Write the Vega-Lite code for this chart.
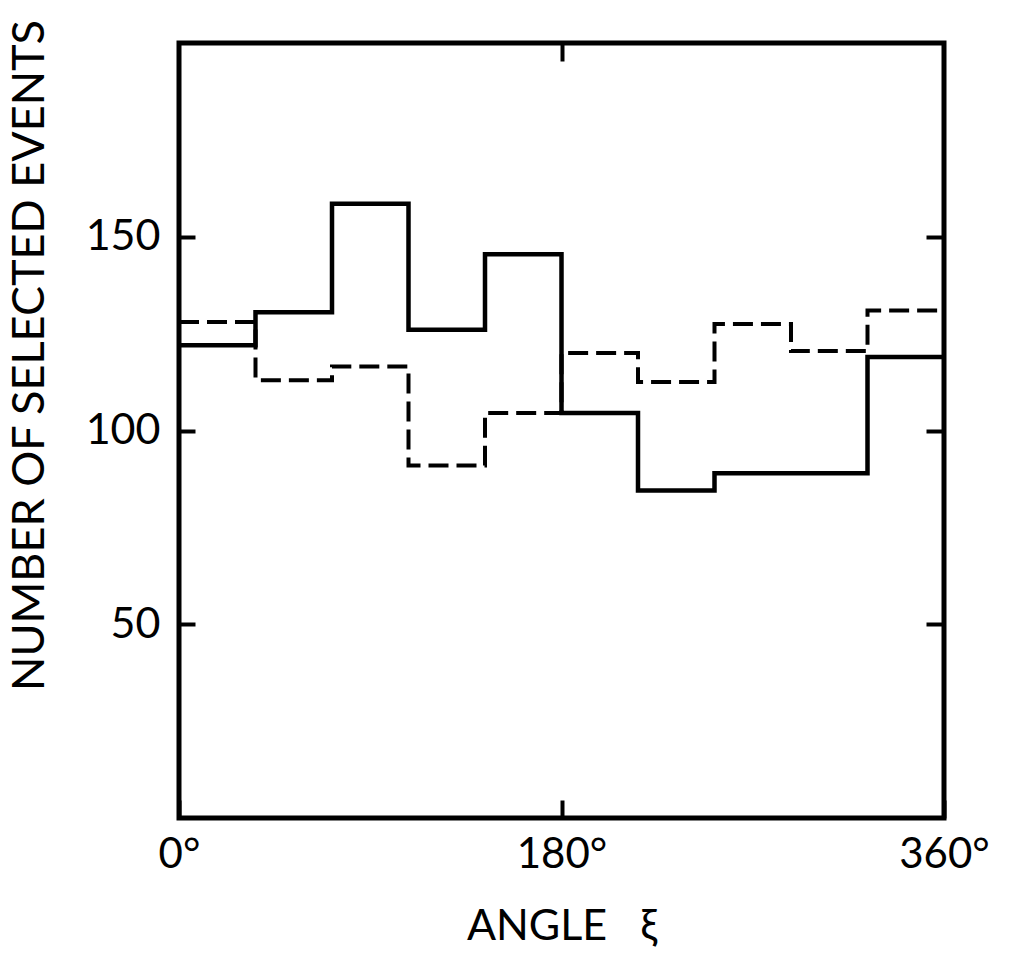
{
  "$schema": "https://vega.github.io/schema/vega-lite/v6.json",
  "width": 765,
  "height": 775,
  "autosize": {"type": "none"},
  "padding": {"left": 179, "top": 43, "right": 70, "bottom": 148},
  "background": "white",
  "config": {
    "view": {"stroke": "black", "strokeWidth": 5},
    "font": "Lato",
    "axis": {
      "grid": false,
      "domain": false,
      "tickColor": "black",
      "tickWidth": 4,
      "labelColor": "black",
      "titleColor": "black",
      "labelFont": "Lato",
      "titleFont": "Lato",
      "labelFontWeight": "normal",
      "titleFontWeight": "normal"
    }
  },
  "data": {
    "values": [
      {"angle": 0, "count": 122, "series": "solid"},
      {"angle": 36, "count": 130.5, "series": "solid"},
      {"angle": 72, "count": 158.5, "series": "solid"},
      {"angle": 108, "count": 126, "series": "solid"},
      {"angle": 144, "count": 145.5, "series": "solid"},
      {"angle": 180, "count": 104.5, "series": "solid"},
      {"angle": 216, "count": 84.5, "series": "solid"},
      {"angle": 252, "count": 89, "series": "solid"},
      {"angle": 288, "count": 89, "series": "solid"},
      {"angle": 324, "count": 119, "series": "solid"},
      {"angle": 360, "count": 119, "series": "solid"},
      {"angle": 0, "count": 128, "series": "dashed"},
      {"angle": 36, "count": 113, "series": "dashed"},
      {"angle": 72, "count": 116.5, "series": "dashed"},
      {"angle": 108, "count": 91, "series": "dashed"},
      {"angle": 144, "count": 104.5, "series": "dashed"},
      {"angle": 180, "count": 120, "series": "dashed"},
      {"angle": 216, "count": 112.5, "series": "dashed"},
      {"angle": 252, "count": 127.5, "series": "dashed"},
      {"angle": 288, "count": 120.5, "series": "dashed"},
      {"angle": 324, "count": 131, "series": "dashed"},
      {"angle": 360, "count": 131, "series": "dashed"}
    ]
  },
  "layer": [
    {
      "transform": [{"filter": "datum.series === 'solid'"}],
      "mark": {"type": "line", "interpolate": "step-after", "color": "black", "strokeWidth": 4.5},
      "encoding": {
        "x": {
          "field": "angle", "type": "quantitative",
          "scale": {"domain": [0, 360], "nice": false, "zero": false},
          "axis": {
            "orient": "bottom", "values": [0, 180, 360],
            "labelExpr": "datum.value + '°'",
            "tickSize": -18, "labelPadding": 34, "labelBaseline": "top",
            "labelFontSize": 42, "labelFlush": false, "labelDx": 10,
            "title": "ANGLE\u00a0\u00a0\u00a0ξ", "titleFontSize": 43,
            "titleY": 121, "titleBaseline": "alphabetic"
          }
        },
        "y": {
          "field": "count", "type": "quantitative",
          "scale": {"domain": [0, 200], "nice": false},
          "axis": {
            "orient": "left", "values": [50, 100, 150],
            "tickSize": -16, "labelPadding": 35, "labelFontSize": 43,
            "labelBaseline": "middle", "labelDy": -11,
            "title": "NUMBER OF SELECTED EVENTS", "titleFontSize": 45,
            "titleAngle": -90, "titleX": -150, "titleY": 312,
            "titleAlign": "center", "titleBaseline": "middle"
          }
        }
      }
    },
    {
      "transform": [{"filter": "datum.series === 'dashed'"}],
      "mark": {"type": "line", "interpolate": "step-after", "color": "black", "strokeWidth": 4, "strokeDash": [20, 8]},
      "encoding": {
        "x": {
          "field": "angle", "type": "quantitative",
          "axis": {"orient": "top", "values": [180], "labels": false, "tickSize": -18, "title": null}
        },
        "y": {
          "field": "count", "type": "quantitative",
          "axis": {"orient": "right", "values": [50, 100, 150], "labels": false, "tickSize": -18, "title": null}
        }
      }
    }
  ],
  "resolve": {"axis": {"x": "independent", "y": "independent"}}
}
